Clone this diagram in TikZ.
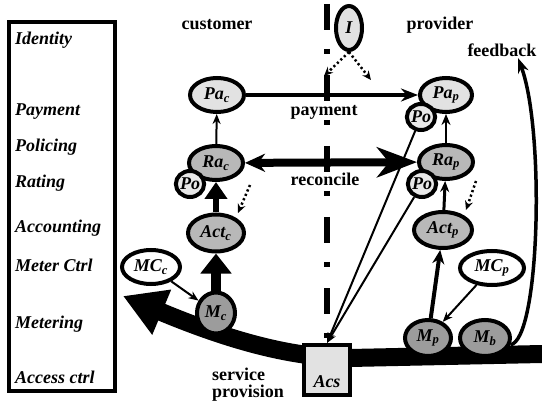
\documentclass[tikz,border=0pt]{standalone}
\usepackage{fontspec}
\setmainfont{Liberation Serif}
\usetikzlibrary{arrows.meta,shapes.geometric}
\definecolor{lightfill}{HTML}{E2E2E2}
\definecolor{pofill}{HTML}{E8E8E8}
\definecolor{midfill}{HTML}{B8B8B8}
\definecolor{darkfill}{HTML}{9C9C9C}
\begin{document}
\begin{tikzpicture}[x=1pt,y=-1pt,
  every node/.style={font=\fontsize{18}{20}\selectfont\bfseries\itshape, inner sep=0pt},
  plain/.style={font=\fontsize{18}{20}\selectfont\bfseries},
  ent/.style={ellipse, draw, line width=4pt, inner sep=0pt},
  light/.style={ent, fill=lightfill},
  mid/.style={ent, fill=midfill},
  dark/.style={ent, fill=darkfill},
  pol/.style={ent, fill=pofill, minimum width=27, minimum height=26},
  ctl/.style={ent, fill=white},
  thinarrow/.style={line width=2pt, -{Stealth[length=10pt,width=8pt]}},
  dotarrow/.style={line width=2.5pt, dash pattern=on 2.2pt off 2.6pt, -{Stealth[length=9pt,width=8pt]}},
  layer/.style={anchor=base west}]

\useasboundingbox (0,0) rectangle (542,404);

% domain border between customer and provider
\draw[line width=6.5pt, dash pattern=on 26pt off 19pt on 5pt off 21pt] (327,4) -- (327,404);

% layer legend
\draw[line width=4pt] (9,22) rectangle (115,391);
\node[layer] (lid)  at (15,45)  {Identity};
\node[layer] (lpay) at (15,116) {Payment};
\node[layer] (lpol) at (15,152) {Policing};
\node[layer] (lrat) at (15,188) {Rating};
\node[layer] (lacc) at (15,233) {Accounting};
\node[layer] (lmc)  at (15,272) {Meter Ctrl};
\node[layer] (lmet) at (15,328) {Metering};
\node[layer] (lacs) at (15,383) {Access ctrl};

% headings
\node[plain, anchor=base] (cust) at (217,30) {customer};
\node[plain, anchor=base] (prov) at (440,30) {provider};
\node[plain, anchor=base] (fb)   at (502,57) {feedback};
\node[plain] (paylbl) at (324,112) {payment};
\node[plain] (reclbl) at (325,179) {reconcile};
\node[plain, anchor=base west] (sp1) at (212,380) {service};
\node[plain, anchor=base west] (sp2) at (212,397) {provision};

% service provision flow
\draw[line width=18pt, -{Triangle[length=42pt,width=46pt]}]
  (542,354) -- (350,358) .. controls (300,358) and (240,345) .. (123,296);

% identity
\node[light, minimum width=26, minimum height=44] (id) at (349,28) {I};

% customer side
\node[light, minimum width=54, minimum height=34] (pac) at (217,95) {Pa\textsubscript{c}};
\node[mid,   minimum width=54, minimum height=34] (rac) at (216,163) {Ra\textsubscript{c}};
\node[pol] (poc) at (190,184) {Po};
\node[mid,   minimum width=56, minimum height=37] (actc) at (216,233) {Act\textsubscript{c}};
\node[ctl,   minimum width=58, minimum height=34] (mcc) at (151,267) {MC\textsubscript{c}};
\node[dark,  minimum width=38, minimum height=41] (mc) at (216,313) {M\textsubscript{c}};

% provider side
\node[light, minimum width=52, minimum height=34] (pap) at (446,95) {Pa\textsubscript{p}};
\node[pol] (popa) at (421,117) {Po};
\node[mid,   minimum width=54, minimum height=34] (rap) at (446,162) {Ra\textsubscript{p}};
\node[pol] (pora) at (422,184) {Po};
\node[mid,   minimum width=58, minimum height=36] (actp) at (443,230) {Act\textsubscript{p}};
\node[ctl,   minimum width=64, minimum height=34] (mcp) at (492,268) {MC\textsubscript{p}};
\node[dark,  minimum width=46, minimum height=36] (mp) at (428,338) {M\textsubscript{p}};
\node[dark,  minimum width=50, minimum height=36] (mb) at (485,338) {M\textsubscript{b}};

% access control point
\node[draw, line width=4pt, fill=lightfill, minimum width=46, minimum height=50] (acs) at (327,370) {};
\node (acst) at (327,382) {Acs};

% payment and reconciliation across the border
\draw[line width=3.5pt, -{Stealth[length=17pt,width=13pt]}] (pac) -- (pap);
\draw[line width=8pt, {Stealth[length=20pt,width=18pt]}-{Stealth[length=40pt,width=30pt,inset=12pt]}] (rac) -- (rap);

% customer chain
\draw[thinarrow] (rac) -- (pac);
\draw[line width=6pt, -{Triangle[length=17pt,width=22pt]}] (actc) -- (rac);
\draw[line width=10pt, -{Triangle[length=20pt,width=30pt]}] (mc) -- (actc);
\draw[thinarrow] (mcc) -- (mc);

% provider chain
\draw[line width=2.5pt, -{Stealth[length=11pt,width=9pt]}] (rap) -- (pap);
\draw[line width=3pt, -{Stealth[length=11pt,width=9pt]}] (actp) -- (rap);
\draw[line width=4pt, -{Stealth[length=14pt,width=12pt]}] (mp) -- (actp);
\draw[thinarrow] (mcp) -- (mp);

% policing towards access control
\draw[thinarrow] (popa) -- (acs.north);
\draw[thinarrow] (pora) -- (acs.north);

% policy hints
\coordinate (dc0) at (250,185);
\coordinate (dc1) at (238,213);
\coordinate (dp0) at (476,181);
\coordinate (dp1) at (466,210);
\draw[dotarrow] (dc0) -- (dc1);
\draw[dotarrow] (dp0) -- (dp1);

% identity hints
\coordinate (il) at (324,76);
\coordinate (ir) at (371,80);
\draw[dotarrow] (id.south) -- (il);
\draw[dotarrow] (id.south) -- (ir);

% feedback loop
\draw[line width=3.5pt, -{Stealth[length=15pt,width=11pt]}]
  (mb.-15) .. controls (540,340) and (545,130) .. (518,58);
\end{tikzpicture}
\end{document}
